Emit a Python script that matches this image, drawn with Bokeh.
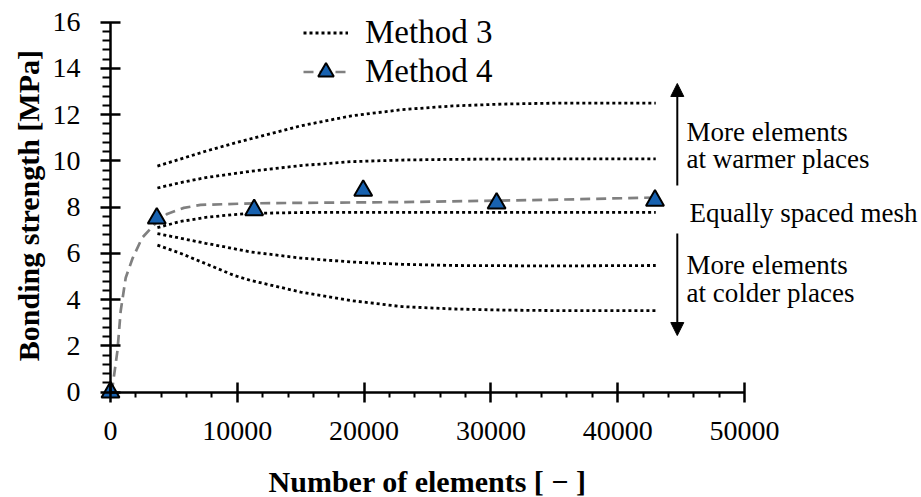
import math
from bokeh.plotting import figure
from bokeh.models import (Range1d, FixedTicker, Legend, LegendItem, Arrow, NormalHead)
from bokeh.core.properties import value
from bokeh.embed import file_html
from bokeh.resources import INLINE

# ---------------- data ----------------
x_ticks = [0, 10000, 20000, 30000, 40000, 50000]
x_minor = [2000, 4000, 6000, 8000, 12000, 14000, 16000, 18000, 22000, 24000, 26000, 28000,
           32000, 34000, 36000, 38000, 42000, 44000, 46000, 48000]
y_ticks = [0, 2, 4, 6, 8, 10, 12, 14, 16]
y_minor = [0.4, 0.8, 1.2, 1.6, 2.4, 2.8, 3.2, 3.6, 4.4, 4.8, 5.2, 5.6, 6.4, 6.8, 7.2, 7.6,
           8.4, 8.8, 9.2, 9.6, 10.4, 10.8, 11.2, 11.6, 12.4, 12.8, 13.2, 13.6, 14.4, 14.8,
           15.2, 15.6]
x_title = "Number of elements [ − ]"
y_title = "Bonding strength [MPa]"

# Method 3 (five mesh variants)
m3_x = [3700, 5500, 7500, 9700, 11000, 15000, 19000, 23000, 27000, 31000, 35000, 39000, 43000]
m3_a = [9.78, 10.08, 10.42, 10.76, 10.95, 11.52, 11.95, 12.22, 12.38, 12.46, 12.50, 12.50, 12.50]
m3_b = [8.83, 9.06, 9.28, 9.45, 9.55, 9.80, 9.97, 10.04, 10.07, 10.08, 10.09, 10.09, 10.09]
m3_c = [7.12, 7.38, 7.56, 7.68, 7.73, 7.77, 7.78, 7.78, 7.78, 7.78, 7.78, 7.78, 7.78]
m3_d = [6.86, 6.66, 6.44, 6.21, 6.07, 5.80, 5.63, 5.53, 5.48, 5.47, 5.46, 5.47, 5.48]
m3_e = [6.36, 6.01, 5.56, 5.06, 4.84, 4.33, 3.96, 3.70, 3.60, 3.55, 3.53, 3.53, 3.53]

# Method 4 measured points and fitted curve
m4_pts_x = [0, 3650, 11330, 19930, 30450, 42940]
m4_pts_y = [0.0, 7.52, 7.88, 8.72, 8.17, 8.29]
m4_fit_x = [0, 150, 550, 800, 1200, 1750, 2500, 3550, 4470, 5780, 7100, 11400, 22900, 34700, 43000]
m4_fit_y = [0.0, 0.2, 1.8, 3.5, 4.95, 5.8, 6.68, 7.3, 7.71, 7.97, 8.1, 8.17, 8.22, 8.32, 8.42]

# annotations
arrow_x = 44700
arrow_up = (8.94, 13.35)
arrow_down = (6.86, 2.45)
note_x = [45430, 45430, 45660, 45430, 45430]
note_y = [11.24, 10.10, 7.77, 5.48, 4.27]
note_text = ["More elements", "at warmer places", "Equally spaced mesh",
             "More elements", "at colder places"]

# ---------------- figure ----------------
W, H = 921, 497
px0, ppx = 110.0, 634.0 / 50000.0     # x pixel of 0, pixels per unit
py0, ppy = 391.7, 23.125             # y pixel of 0, pixels per unit

def dx(px):
    return (px - px0) / ppx

def dy(py):
    return (py0 - py) / ppy

p = figure(width=W, height=H, output_backend="svg", toolbar_location=None,
           x_range=Range1d(dx(0), dx(W)), y_range=Range1d(dy(H), dy(0)),
           min_border=0, outline_line_color=None)
p.grid.visible = False
p.background_fill_color = "white"

SERIF = "Liberation Serif"
BLUE = "#1862b0"

for ax, ticks, minor, bnd in ((p.xaxis[0], x_ticks, x_minor, (0, 50000)),
                              (p.yaxis[0], y_ticks, y_minor, (0, 16))):
    ax.ticker = FixedTicker(ticks=ticks, minor_ticks=minor)
    ax.fixed_location = 0
    ax.bounds = bnd
    ax.axis_line_color = "black"
    ax.axis_line_width = 2.5
    ax.major_tick_line_color = "black"
    ax.major_tick_line_width = 2.5
    ax.minor_tick_line_color = "black"
    ax.minor_tick_line_width = 2
    ax.major_tick_in = 10
    ax.major_tick_out = 10
    ax.minor_tick_in = 0
    ax.major_label_text_font = SERIF
    ax.major_label_text_font_size = "28px"
    ax.major_label_text_color = "black"

p.xaxis.minor_tick_out = 5
p.yaxis.minor_tick_out = 8
p.xaxis.major_label_standoff = 20
p.yaxis.major_label_standoff = 20

# axis titles
p.text(x=[25000], y=[dy(481)], text=[x_title], text_font=value(SERIF),
       text_font_size="30px", text_font_style="bold", text_align="center",
       text_baseline="middle", text_color="black")
p.text(x=[dx(27.5)], y=[8.07], text=[y_title], text_font=value(SERIF),
       text_font_size="30px", text_font_style="bold", text_align="center",
       text_baseline="middle", text_color="black", angle=math.pi / 2)

dot_kw = dict(line_color="black", line_width=2.8, line_dash="3 3")
r3 = None
for ys in (m3_a, m3_b, m3_c, m3_d, m3_e):
    r = p.line(m3_x, ys, **dot_kw)
    if r3 is None:
        r3 = r

r4l = p.line(m4_fit_x, m4_fit_y, line_color="#808080", line_width=2.7, line_dash="10 6")
r4m = p.scatter(m4_pts_x, m4_pts_y, marker="triangle", size=18, fill_color=BLUE,
                line_color="black", line_width=2)

for y0, y1 in (arrow_up, arrow_down):
    p.add_layout(Arrow(end=NormalHead(size=13, fill_color="black", line_color="black"),
                       x_start=arrow_x, y_start=y0, x_end=arrow_x, y_end=y1,
                       line_color="black", line_width=2))

p.text(x=note_x, y=note_y, text=note_text, text_font=value(SERIF), text_font_size="27px",
       text_baseline="middle", text_align="left", text_color="black")

legend = Legend(items=[LegendItem(label="Method 3", renderers=[r3]),
                       LegendItem(label="Method 4", renderers=[r4l, r4m])],
                location=(303, 406), padding=0, margin=0, spacing=0,
                glyph_width=45, glyph_height=39, label_standoff=17,
                label_text_font=SERIF, label_text_font_size="33px",
                label_text_color="black",
                border_line_color=None, background_fill_alpha=0)
p.add_layout(legend)

open("out.html", "w").write(file_html(p, INLINE))
